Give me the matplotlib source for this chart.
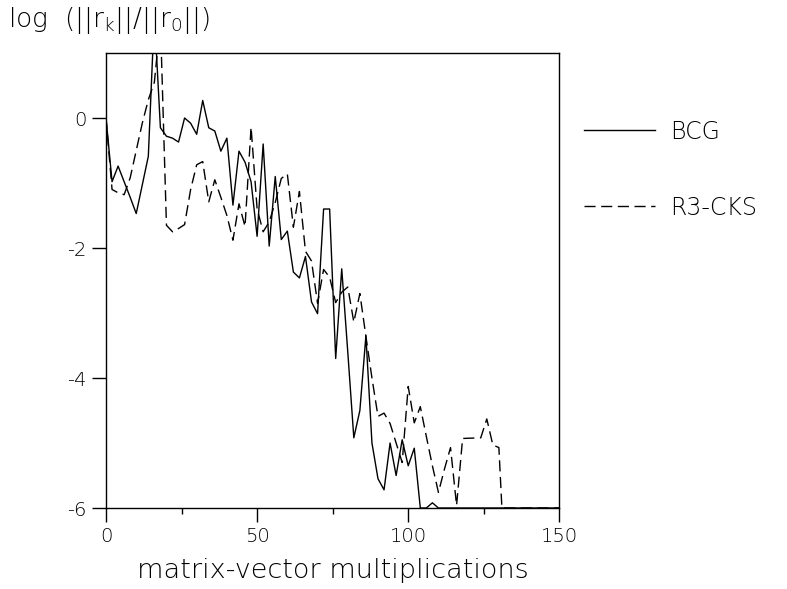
import matplotlib

matplotlib.use("Agg")
import matplotlib.pyplot as plt
from matplotlib.ticker import MultipleLocator

# residual history, log10(||r_k||/||r_0||) vs matrix-vector multiplications
bcg_x = [0, 2, 4, 6, 8, 10, 12, 14, 16, 18, 20, 22, 24, 26, 28, 30, 32, 34, 36,
         38, 40, 42, 44, 46, 48, 50, 52, 54, 56, 58, 60, 62, 64, 66, 68, 70, 72,
         74, 76, 78, 80, 82, 84, 86, 88, 90, 92, 94, 96, 98, 100, 102, 104, 106,
         108, 110, 150]
bcg_y = [0.0, -0.98, -0.74, -0.98, -1.22, -1.47, -1.03, -0.59, 1.6, -0.15,
         -0.28, -0.31, -0.37, 0.0, -0.08, -0.25, 0.27, -0.15, -0.2, -0.51,
         -0.31, -1.34, -0.51, -0.68, -0.98, -1.82, -0.4, -1.97, -0.9, -1.87,
         -1.74, -2.37, -2.46, -2.13, -2.83, -3.01, -1.4, -1.4, -3.7, -2.32,
         -3.6, -4.92, -4.5, -3.35, -5.0, -5.55, -5.72, -5.0, -5.5, -4.95,
         -5.35, -5.08, -6.0, -6.0, -5.92, -6.0, -6.0]

cks_x = [0, 2, 4, 6, 8, 10, 12, 14, 16, 18, 20, 22, 24, 26, 28, 30, 32, 34, 36,
         38, 40, 42, 44, 46, 48, 50, 52, 54, 56, 58, 60, 62, 64, 66, 68, 70, 72,
         74, 76, 78, 80, 82, 84, 86, 88, 90, 92, 94, 96, 98, 100, 102, 104, 106,
         108, 110, 112, 114, 116, 118, 124, 126, 128, 130, 131, 150]
cks_y = [0.0, -1.1, -1.15, -1.18, -0.92, -0.5, -0.08, 0.28, 0.55, 1.5, -1.65,
         -1.75, -1.7, -1.64, -1.1, -0.72, -0.67, -1.29, -0.95, -1.22, -1.5,
         -1.88, -1.32, -1.67, -0.14, -1.4, -1.75, -1.6, -1.3, -0.93, -0.86,
         -1.68, -1.13, -2.05, -2.2, -2.85, -2.33, -2.45, -2.84, -2.68, -2.6,
         -3.14, -2.7, -3.36, -4.0, -4.59, -4.54, -4.7, -5.0, -5.3, -4.13, -4.69,
         -4.44, -4.9, -5.35, -5.76, -5.4, -5.07, -5.96, -4.93, -4.92, -4.63,
         -5.03, -5.07, -6.0, -6.0]

x_ticks = [0, 50, 100, 150]
y_ticks = [0, -2, -4, -6]

plt.rcParams["axes.unicode_minus"] = False
plt.rcParams["font.family"] = "DejaVu Sans"
plt.rcParams["font.weight"] = "light"
plt.rcParams["axes.labelweight"] = "light"
plt.rcParams["mathtext.default"] = "regular"

fig = plt.figure(figsize=(7.87, 5.89), dpi=100)
ax = fig.add_axes([0.1347, 0.1375, 0.576, 0.7725])

ax.plot(bcg_x, bcg_y, color="black", lw=1.0, label="BCG")
ax.plot(cks_x, cks_y, color="black", lw=1.0, dashes=(8, 4), label="R3-CKS")

ax.set_xlim(0, 150)
ax.set_ylim(-6, 1)
ax.set_xticks(x_ticks)
ax.set_yticks(y_ticks)
ax.xaxis.set_minor_locator(MultipleLocator(25))
ax.tick_params(axis="both", which="major", direction="out", length=10,
               width=1.0, labelsize=14, pad=4)
ax.tick_params(axis="x", which="minor", direction="out", length=4, width=1.0)
for s in ax.spines.values():
    s.set_linewidth(1.0)

ax.set_xlabel("matrix-vector multiplications", fontsize=19.5, labelpad=8)
fig.text(0.01, 0.966, r"log  (||r$_{k}$||/||r$_{0}$||)", fontsize=19,
         va="center", ha="left")

ax.legend(loc="upper left", bbox_to_anchor=(0.715, 0.833),
          bbox_transform=fig.transFigure, frameon=False, fontsize=17,
          handlelength=3.0, handletextpad=0.64, labelspacing=2.2)

fig.savefig("out.png", dpi=100)
plt.close(fig)
